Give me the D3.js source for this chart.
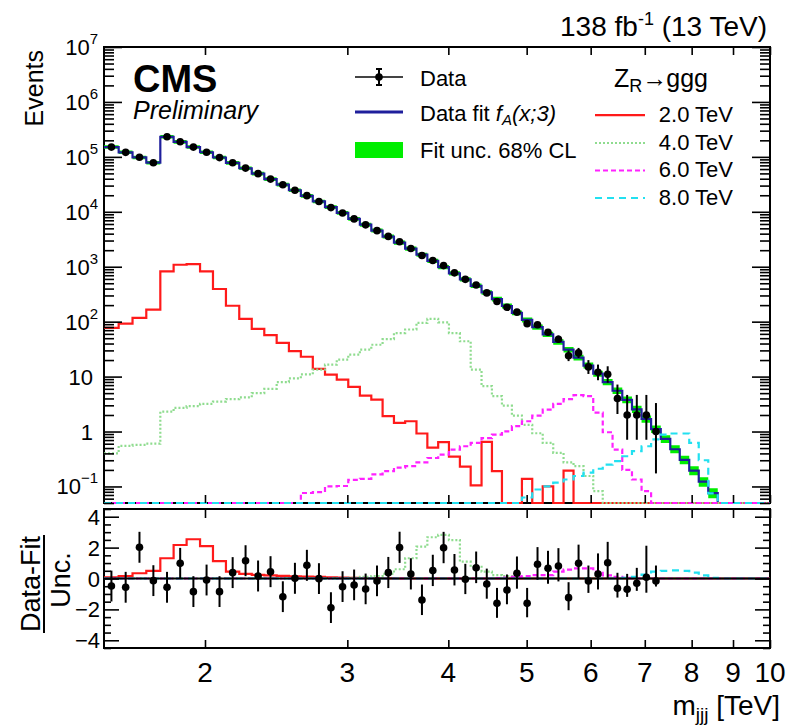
<!DOCTYPE html>
<html>
<head>
<meta charset="utf-8">
<script src="https://cdn.jsdelivr.net/npm/d3@7"></script>
<style>
  html, body { margin: 0; padding: 0; background: #fff; }
  svg text { font-family: "Liberation Sans", Arial, Helvetica, sans-serif; fill: #000; }
</style>
</head>
<body>
<svg id="chart" width="797" height="727"></svg>
<script>
// ---------------------------------------------------------------------------
// Three-jet invariant mass spectrum, m_jjj [TeV]
// ---------------------------------------------------------------------------
const massMin = 1.5, massMax = 10;
const yMin = 0.05, yMax = 1e7;

// Bin edges (TeV)
const binEdges = [1.50, 1.564, 1.627, 1.692, 1.761, 1.829, 1.898, 1.972, 2.046, 2.123,
  2.205, 2.285, 2.368, 2.453, 2.540, 2.628, 2.719, 2.815, 2.911, 3.008,
  3.109, 3.212, 3.317, 3.426, 3.537, 3.653, 3.768, 3.886, 4.007, 4.134,
  4.263, 4.397, 4.529, 4.660, 4.794, 4.933, 5.080, 5.234, 5.393, 5.554,
  5.714, 5.879, 6.044, 6.210, 6.386, 6.565, 6.749, 6.936, 7.127, 7.326,
  7.527, 7.733, 7.945, 8.163, 8.387, 8.617];

// Observed events per bin
const dataCounts = [150530, 120880, 98120, 78310, 232020, 187920, 150700, 121320, 97020, 77910,
  62380, 49470, 39350, 30996, 24726, 19659, 15422, 11933, 9481, 7432,
  5786, 4542, 3564, 2857, 2152, 1603, 1298, 1048, 774, 589,
  464, 334, 233, 183, 149, 92, 88, 64, 48, 24,
  27, 15, 12, 11, 4, 2, 2, 2, 1];

// Background fit f_A(x;3), events per bin
const fitValues = [1.51e5, 1.21e5, 9.75e4, 7.83e4, 2.32e5, 1.875e5, 1.51e5, 1.213e5, 9.73e4, 7.78e4,
  6.21e4, 4.94e4, 3.93e4, 3.12e4, 2.47e4, 1.954e4, 1.542e4, 1.213e4, 9530, 7460,
  5830, 4550, 3540, 2750, 2140, 1656, 1279, 986, 759, 589,
  449, 340, 257, 193, 144.5, 107.6, 79.6, 58.5, 42.7, 30.9,
  22.2, 15.9, 11.3, 7.94, 5.53, 3.78, 2.54, 1.69, 1.11, 0.733,
  0.476, 0.306, 0.195, 0.122, 0.0759];

// Relative fit uncertainty (68% CL)
const fitRelUnc = [0.008, 0.008, 0.008, 0.008, 0.008, 0.008, 0.008, 0.008, 0.008, 0.008,
  0.010, 0.010, 0.010, 0.010, 0.010, 0.010, 0.010, 0.010, 0.010, 0.010,
  0.015, 0.016, 0.017, 0.018, 0.019, 0.020, 0.021, 0.022, 0.023, 0.025,
  0.028, 0.030, 0.032, 0.034, 0.036, 0.038, 0.040, 0.043, 0.046, 0.050,
  0.054, 0.058, 0.062, 0.066, 0.070, 0.075, 0.080, 0.085, 0.090,
  0.095, 0.10, 0.11, 0.12, 0.13, 0.14];

// (Data - Fit) / Unc. per bin
const pulls = [-0.49, -0.57, 2.02, -0.14, -0.57, 0.98, -0.85, -0.10, -0.85, 0.38,
  1.15, 0.16, 0.44, -1.18, 0.01, 0.85, -0.01, -1.89, -0.53, -0.42,
  -0.68, -0.16, 0.38, 2.01, 0.29, -1.39, 0.51, 1.99, 0.55, -0.05,
  0.70, -0.36, -1.61, -0.74, 0.34, -1.61, 0.92, 0.66, 0.81, -1.24,
  0.98, -0.16, 0.29, 1.02, -0.63, -0.70, -0.31, 0.08, -0.16];

// Z_R -> ggg signal templates, events per bin
const signal2 = [77, 92, 117, 165, 822, 1087, 1119, 822, 393, 195,
  112, 74, 57, 41, 29, 23, 13.8, 10.9, 8.8, 6.5,
  4.5, 3.8, 1.9, 1.44, 1.54, 0.92, 0.51, 0.64, 0.35, 0.23,
  0.105, 0.65, 0.19, 0, 0, 0.138, 0, 0.10, 0, 0.195,
  0, 0, 0, 0, 0, 0, 0, 0, 0, 0,
  0, 0, 0, 0, 0];
const signal4 = [0.40, 0.55, 0.57, 0.60, 2.3, 2.7, 2.9, 3.2, 3.5, 3.9,
  4.2, 5.0, 6.0, 7.9, 9.3, 11.0, 13.4, 16.5, 20.4, 25.1,
  31, 38, 48, 62, 72, 95, 112, 97, 62, 44,
  13.4, 6.7, 4.4, 2.95, 1.95, 1.32, 0.93, 0.62, 0.41, 0.275,
  0.234, 0.155, 0.082, 0, 0, 0, 0, 0, 0, 0,
  0, 0, 0, 0, 0];
const signal6 = [0, 0, 0, 0, 0, 0, 0, 0, 0, 0,
  0, 0, 0, 0, 0, 0.076, 0.079, 0.10, 0.102, 0.132,
  0.138, 0.166, 0.19, 0.22, 0.234, 0.275, 0.33, 0.38, 0.47, 0.54,
  0.62, 0.76, 0.88, 1.01, 1.25, 1.54, 1.95, 2.5, 3.2, 3.9,
  4.6, 4.4, 2.2, 0.97, 0.47, 0.20, 0.134, 0.082, 0, 0,
  0, 0, 0, 0, 0];
const signal8 = [0, 0, 0, 0, 0, 0, 0, 0, 0, 0,
  0, 0, 0, 0, 0, 0, 0, 0, 0, 0,
  0, 0, 0, 0, 0, 0, 0, 0, 0, 0,
  0, 0, 0, 0, 0, 0.063, 0.088, 0.10, 0.117, 0.134,
  0.155, 0.178, 0.21, 0.25, 0.29, 0.355, 0.44, 0.54, 0.72, 0.88,
  0.92, 0.92, 0.62, 0.30, 0.075];

// Signal templates in units of the fit uncertainty (ratio panel)
const signal2Pull = [0.08, 0.16, 0.34, 0.50, 1.31, 2.17, 2.54, 2.10, 1.13, 0.44,
  0.30, 0.23, 0.20, 0.17, 0.14, 0.12, 0.10, 0.08, 0.06, 0.04,
  0.03, 0.02, 0.01, 0, 0, 0, 0, 0, 0, 0,
  0, 0, 0, 0, 0, 0, 0, 0, 0, 0,
  0, 0, 0, 0, 0, 0, 0, 0, 0, 0,
  0, 0, 0, 0, 0];
const signal4Pull = [0, 0, 0, 0, 0, 0, 0, 0, 0, 0,
  0, 0, 0, 0, 0, 0, 0, 0, 0, 0.05,
  0.10, 0.15, 0.30, 0.60, 1.31, 2.06, 2.67, 2.82, 2.49, 1.09,
  0.76, 0.44, 0.22, 0.15, 0.10, 0.05, 0, 0, 0, 0,
  0, 0, 0, 0, 0, 0, 0, 0, 0, 0,
  0, 0, 0, 0, 0];
const signal6Pull = [0, 0, 0, 0, 0, 0, 0, 0, 0, 0,
  0, 0, 0, 0, 0, 0, 0, 0, 0, 0,
  0, 0, 0, 0, 0, 0, 0, 0, 0, 0,
  0, 0, 0.03, 0.06, 0.10, 0.15, 0.22, 0.22, 0.45, 0.58,
  0.65, 0.65, 0.45, 0.20, 0.10, 0.04, 0, 0, 0, 0,
  0, 0, 0, 0, 0];
const signal8Pull = [0, 0, 0, 0, 0, 0, 0, 0, 0, 0,
  0, 0, 0, 0, 0, 0, 0, 0, 0, 0,
  0, 0, 0, 0, 0, 0, 0, 0, 0, 0,
  0, 0, 0, 0, 0, 0, 0, 0, 0, 0,
  0, 0, 0, 0, 0, 0.05, 0.10, 0.25, 0.45, 0.50,
  0.52, 0.50, 0.38, 0.20, 0.05];

// Axis tick values and labels
const xTickValues = [2, 3, 4, 5, 6, 7, 8, 9, 10];
const yExponents = [-1, 0, 1, 2, 3, 4, 5, 6, 7];
const ratioTickValues = [-4, -2, 0, 2, 4];

const signals = [
  { label: "2.0 TeV", values: signal2, pull: signal2Pull, color: "#ff1a1a", dash: null },
  { label: "4.0 TeV", values: signal4, pull: signal4Pull, color: "#8fdc8f", dash: "2,2" },
  { label: "6.0 TeV", values: signal6, pull: signal6Pull, color: "#ff22ff", dash: "5,3" },
  { label: "8.0 TeV", values: signal8, pull: signal8Pull, color: "#22e0f0", dash: "7,5" }
];

// ---------------------------------------------------------------------------
// Layout and scales
// ---------------------------------------------------------------------------
const svg = d3.select("#chart");
const xL = 104, xR = 770;
const upTop = 47, upBot = 503;
const loTop = 509, loBot = 648;

const x = d3.scaleLog().domain([massMin, massMax]).range([xL, xR]);
const yU = d3.scaleLog().domain([yMin, yMax]).range([upBot, upTop]);
const yL = d3.scaleLinear().domain([-4.5, 4.5]).range([loBot, loTop]);

const fitColor = "#1f1f9c";
const bandColor = "#00ee00";

// Poisson (Garwood) 68% interval
const ALPHA = 1 - 0.682689;
function poisCdf(k, mu) {
  let t = Math.exp(-mu), s = t;
  for (let i = 1; i <= k; i++) { t *= mu / i; s += t; }
  return s;
}
function bisect(f, a, b) {
  for (let i = 0; i < 80; i++) {
    const m = 0.5 * (a + b);
    if (f(m) > 0) a = m; else b = m;
  }
  return 0.5 * (a + b);
}
function garwood(n) {
  if (n > 300) { const s = Math.sqrt(n); return [n - s, n + s + 1]; }
  const lo = n === 0 ? 0 : bisect(mu => poisCdf(n - 1, mu) - (1 - ALPHA / 2), 0, n);
  const hi = bisect(mu => poisCdf(n, mu) - ALPHA / 2, n, n + 10 * Math.sqrt(n) + 10);
  return [lo, hi];
}

function centre(i) { return x((binEdges[i] + binEdges[i + 1]) / 2); }

function histPoints(vals, yf, floorY) {
  const pts = [];
  vals.forEach((v, i) => {
    const yy = yf(v);
    pts.push([x(binEdges[i]), yy], [x(binEdges[i + 1]), yy]);
  });
  const last = binEdges[vals.length];
  pts.push([x(last), floorY], [x(massMax), floorY]);
  return pts;
}
const upY = v => yU(Math.max(v, yMin));
const line = d3.line();

// clip regions
const defs = svg.append("defs");
defs.append("clipPath").attr("id", "clipUp").append("rect")
  .attr("x", xL - 1).attr("y", upTop - 1).attr("width", xR - xL + 2).attr("height", upBot - upTop + 3);
defs.append("clipPath").attr("id", "clipLo").append("rect")
  .attr("x", xL).attr("y", loTop).attr("width", xR - xL).attr("height", loBot - loTop);

// ---------------------------------------------------------------------------
// Upper panel
// ---------------------------------------------------------------------------
const up = svg.append("g");
up.append("rect").attr("x", xL).attr("y", upTop).attr("width", xR - xL).attr("height", upBot - upTop)
  .attr("fill", "none").attr("stroke", "#000").attr("stroke-width", 2);

const upPlot = up.append("g").attr("clip-path", "url(#clipUp)");

// fit uncertainty band
const bandPts = [];
fitValues.forEach((v, i) => {
  const d = v * fitRelUnc[i];
  bandPts.push({ x: x(binEdges[i]), lo: upY(v - d), hi: upY(v + d) });
  bandPts.push({ x: x(binEdges[i + 1]), lo: upY(v - d), hi: upY(v + d) });
});
upPlot.append("path")
  .attr("d", d3.area().x(d => d.x).y0(d => d.lo + 1.6).y1(d => d.hi - 1.6)(bandPts))
  .attr("fill", bandColor);

// fit
upPlot.append("path")
  .attr("d", line(histPoints(fitValues, upY, upBot)))
  .attr("fill", "none").attr("stroke", fitColor).attr("stroke-width", 2.2);

// signals
signals.forEach(s => {
  upPlot.append("path")
    .attr("d", line(histPoints(s.values, upY, upBot)))
    .attr("fill", "none").attr("stroke", s.color).attr("stroke-width", 2.2)
    .attr("stroke-dasharray", s.dash);
});

// data
const dataG = upPlot.append("g");
dataCounts.forEach((n, i) => {
  const [lo, hi] = garwood(n);
  const cx = centre(i);
  dataG.append("line").attr("x1", cx).attr("x2", cx)
    .attr("y1", yU(hi)).attr("y2", yU(Math.max(lo, yMin)))
    .attr("stroke", "#000").attr("stroke-width", 2);
  dataG.append("circle").attr("cx", cx).attr("cy", yU(n)).attr("r", 3.8).attr("fill", "#000");
});

// axes of the upper panel
const majorY = yExponents.map(k => Math.pow(10, k));
const minorY = [];
for (let k = -2; k <= 6; k++) for (let m = 2; m <= 9; m++) {
  const v = m * Math.pow(10, k);
  if (v >= yMin && v <= yMax) minorY.push(v);
}
function tickAxis(g, axis) {
  g.call(axis);
  g.select(".domain").remove();
  g.selectAll(".tick line").attr("stroke", "#000").attr("stroke-width", 1.6);
  g.selectAll(".tick text").remove();
}
tickAxis(up.append("g").attr("transform", `translate(${xL},0)`), d3.axisRight(yU).tickValues(majorY).tickSize(18).tickFormat(""));
tickAxis(up.append("g").attr("transform", `translate(${xL},0)`), d3.axisRight(yU).tickValues(minorY).tickSize(10).tickFormat(""));
tickAxis(up.append("g").attr("transform", `translate(${xR},0)`), d3.axisLeft(yU).tickValues(majorY).tickSize(18).tickFormat(""));
tickAxis(up.append("g").attr("transform", `translate(${xR},0)`), d3.axisLeft(yU).tickValues(minorY).tickSize(10).tickFormat(""));
tickAxis(up.append("g").attr("transform", `translate(0,${upBot})`), d3.axisTop(x).tickValues(xTickValues).tickSize(8).tickFormat(""));
tickAxis(up.append("g").attr("transform", `translate(0,${upTop})`), d3.axisBottom(x).tickValues(xTickValues).tickSize(8).tickFormat(""));

// y tick labels: 10^-1, 1, 10, 10^2 ...
yExponents.forEach(k => {
  const yy = yU(Math.pow(10, k)) + 8;
  if (k === 0 || k === 1) {
    up.append("text").attr("x", 93).attr("y", yy).attr("text-anchor", "end")
      .attr("font-size", 22).text(k === 0 ? "1" : "10");
  } else {
    const t = up.append("text").attr("x", 98).attr("y", yy).attr("text-anchor", "end").attr("font-size", 22);
    t.append("tspan").text("10");
    t.append("tspan").attr("dy", -11).attr("font-size", 15).text(k < 0 ? "\u2212" + (-k) : String(k));
  }
});

// ---------------------------------------------------------------------------
// Lower (ratio) panel
// ---------------------------------------------------------------------------
const lo = svg.append("g");
lo.append("rect").attr("x", xL).attr("y", loTop).attr("width", xR - xL).attr("height", loBot - loTop)
  .attr("fill", "none").attr("stroke", "#000").attr("stroke-width", 2);
const loPlot = lo.append("g").attr("clip-path", "url(#clipLo)");

signals.forEach(s => {
  loPlot.append("path")
    .attr("d", line(histPoints(s.pull, v => yL(v), yL(0))))
    .attr("fill", "none").attr("stroke", s.color).attr("stroke-width", 2.2)
    .attr("stroke-dasharray", s.dash);
});
loPlot.append("line").attr("x1", xL).attr("x2", xR).attr("y1", yL(0)).attr("y2", yL(0))
  .attr("stroke", "#000").attr("stroke-width", 2);

pulls.forEach((p, i) => {
  const n = dataCounts[i];
  const [l, h] = garwood(n);
  const eUp = h - n, eLo = n - l;
  const up1 = p >= 0 ? eUp / eLo : 1;
  const dn1 = p >= 0 ? 1 : eLo / eUp;
  const cx = centre(i);
  loPlot.append("line").attr("x1", cx).attr("x2", cx)
    .attr("y1", yL(p + up1)).attr("y2", yL(p - dn1))
    .attr("stroke", "#000").attr("stroke-width", 2);
  loPlot.append("circle").attr("cx", cx).attr("cy", yL(p)).attr("r", 3.8).attr("fill", "#000");
});

const ratioMinor = d3.range(-4.5, 4.51, 0.5).filter(v => Math.abs(v % 2) > 1e-6);
tickAxis(lo.append("g").attr("transform", `translate(${xL},0)`), d3.axisRight(yL).tickValues(ratioTickValues).tickSize(15).tickFormat(""));
tickAxis(lo.append("g").attr("transform", `translate(${xL},0)`), d3.axisRight(yL).tickValues(ratioMinor).tickSize(7).tickFormat(""));
tickAxis(lo.append("g").attr("transform", `translate(${xR},0)`), d3.axisLeft(yL).tickValues(ratioTickValues).tickSize(15).tickFormat(""));
tickAxis(lo.append("g").attr("transform", `translate(${xR},0)`), d3.axisLeft(yL).tickValues(ratioMinor).tickSize(7).tickFormat(""));
tickAxis(lo.append("g").attr("transform", `translate(0,${loBot})`), d3.axisTop(x).tickValues(xTickValues).tickSize(8).tickFormat(""));
tickAxis(lo.append("g").attr("transform", `translate(0,${loTop})`), d3.axisBottom(x).tickValues(xTickValues).tickSize(9).tickFormat(""));

ratioTickValues.forEach(v => {
  lo.append("text").attr("x", 100).attr("y", yL(v) + 8).attr("text-anchor", "end")
    .attr("font-size", 22).text(v < 0 ? "\u2212" + (-v) : String(v));
});
xTickValues.forEach(v => {
  svg.append("text").attr("x", x(v)).attr("y", 682).attr("text-anchor", "middle")
    .attr("font-size", 28).text(String(v));
});

// ---------------------------------------------------------------------------
// Titles
// ---------------------------------------------------------------------------
const xt = svg.append("text").attr("x", 780).attr("y", 715).attr("text-anchor", "end").attr("font-size", 28);
xt.append("tspan").text("m");
xt.append("tspan").attr("dy", 6).attr("font-size", 19).text("jjj");
xt.append("tspan").attr("dy", -6).text(" [TeV]");

svg.append("text").attr("transform", "translate(43,50) rotate(-90)")
  .attr("text-anchor", "end").attr("font-size", 25).text("Events");

svg.append("text").attr("transform", "translate(40,584) rotate(-90)")
  .attr("text-anchor", "middle").attr("font-size", 27).text("Data-Fit");
svg.append("line").attr("x1", 44).attr("x2", 44).attr("y1", 535).attr("y2", 633)
  .attr("stroke", "#000").attr("stroke-width", 2);
svg.append("text").attr("transform", "translate(70,580) rotate(-90)")
  .attr("text-anchor", "middle").attr("font-size", 27).text("Unc.");

const lumi = svg.append("text").attr("x", 767).attr("y", 36).attr("text-anchor", "end").attr("font-size", 28);
lumi.append("tspan").text("138 fb");
lumi.append("tspan").attr("dy", -11).attr("font-size", 18).text("-1");
lumi.append("tspan").attr("dy", 11).text(" (13 TeV)");

svg.append("text").attr("x", 133).attr("y", 92).attr("font-size", 38).attr("font-weight", "bold").text("CMS");
svg.append("text").attr("x", 133).attr("y", 119).attr("font-size", 25).attr("font-style", "italic").text("Preliminary");

// ---------------------------------------------------------------------------
// Legends
// ---------------------------------------------------------------------------
const lg = svg.append("g");
lg.append("line").attr("x1", 355).attr("x2", 403).attr("y1", 77).attr("y2", 77).attr("stroke", "#444").attr("stroke-width", 2);
lg.append("line").attr("x1", 379).attr("x2", 379).attr("y1", 69).attr("y2", 85).attr("stroke", "#000").attr("stroke-width", 2);
lg.append("line").attr("x1", 376).attr("x2", 382).attr("y1", 69).attr("y2", 69).attr("stroke", "#000").attr("stroke-width", 2);
lg.append("line").attr("x1", 376).attr("x2", 382).attr("y1", 85).attr("y2", 85).attr("stroke", "#000").attr("stroke-width", 2);
lg.append("circle").attr("cx", 379).attr("cy", 77).attr("r", 3.8).attr("fill", "#000");
lg.append("text").attr("x", 420).attr("y", 85.5).attr("font-size", 22).text("Data");

lg.append("line").attr("x1", 355).attr("x2", 403).attr("y1", 112).attr("y2", 112).attr("stroke", fitColor).attr("stroke-width", 3);
const fitLbl = lg.append("text").attr("x", 420).attr("y", 121).attr("font-size", 22);
fitLbl.append("tspan").text("Data fit ");
fitLbl.append("tspan").attr("font-style", "italic").text("f");
fitLbl.append("tspan").attr("font-style", "italic").attr("font-size", 15).attr("dy", 4).text("A");
fitLbl.append("tspan").attr("font-style", "italic").attr("dy", -4).text("(x;3)");

lg.append("rect").attr("x", 355).attr("y", 142).attr("width", 48).attr("height", 16).attr("fill", bandColor);
lg.append("text").attr("x", 420).attr("y", 157.5).attr("font-size", 22).text("Fit unc. 68% CL");

const zr = lg.append("text").attr("x", 614).attr("y", 87).attr("font-size", 25);
zr.append("tspan").text("Z");
zr.append("tspan").attr("dy", 5).attr("font-size", 18).text("R");
zr.append("tspan").attr("dy", -5).attr("letter-spacing", -1).text("\u2192");
zr.append("tspan").text("ggg");

const sigBase = [121.7, 149.5, 177, 204.5];
signals.forEach((s, i) => {
  const ly = sigBase[i] - 6.5;
  lg.append("line").attr("x1", 595).attr("x2", 645).attr("y1", ly).attr("y2", ly)
    .attr("stroke", s.color).attr("stroke-width", 2.2).attr("stroke-dasharray", s.dash);
  lg.append("text").attr("x", 733).attr("y", sigBase[i]).attr("text-anchor", "end")
    .attr("font-size", 22).text(s.label);
});
</script>
</body>
</html>
